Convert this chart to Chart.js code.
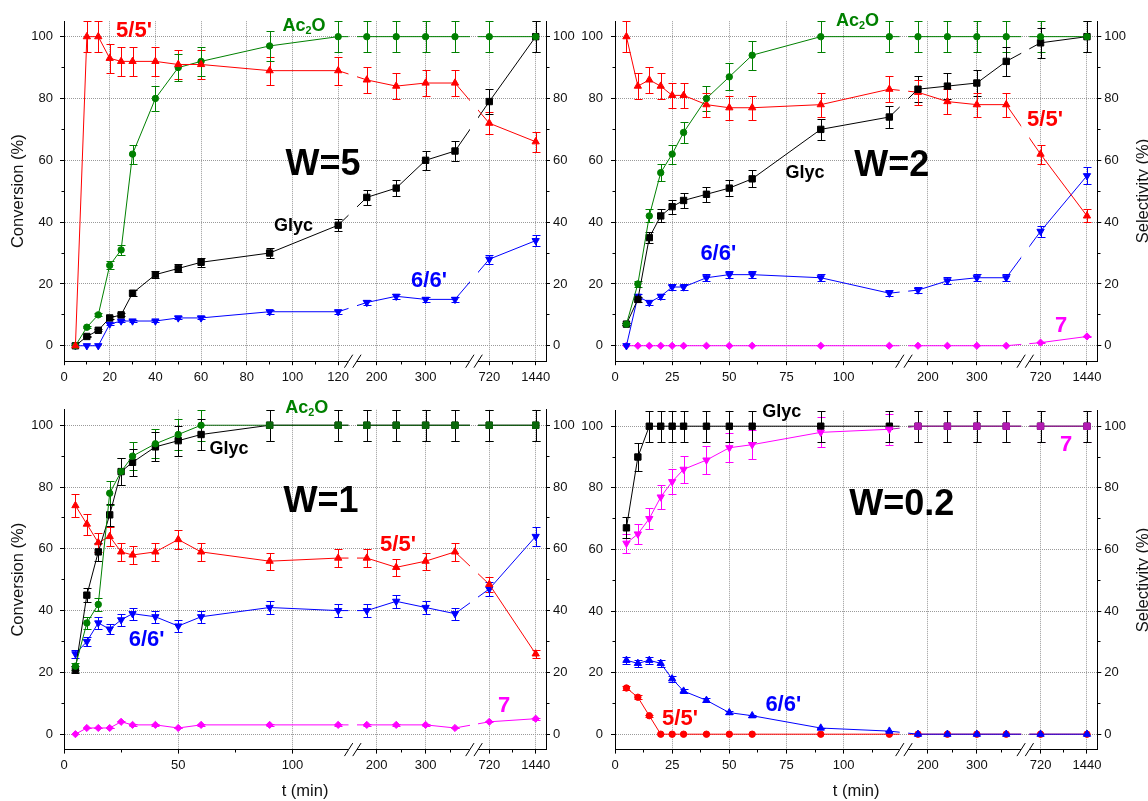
<!DOCTYPE html>
<html>
<head>
<meta charset="utf-8">
<title>Conversion and selectivity vs time, W = 5, 2, 1, 0.2</title>
<script src="https://cdn.jsdelivr.net/npm/chart.js@4.4.1/dist/chart.umd.min.js"></script>
<style>
  body { margin: 0; background: #fff; }
  #wrap { position: relative; width: 1148px; height: 801px; overflow: hidden; font-family: Arial, "Liberation Sans", sans-serif; }
  #wrap canvas { position: absolute; }
  .note { position: absolute; transform: translate(-50%, -50%); font-weight: bold; line-height: 1; white-space: nowrap; }
  .note sub { font-size: .6em; position: relative; top: .28em; vertical-align: baseline; line-height: 0; }
  .ytitle { position: absolute; transform: translate(-50%, -50%) rotate(-90deg); font-size: 16.5px; line-height: 1; white-space: nowrap; color: #111; }
</style>
</head>
<body>
<div id="wrap">
  <canvas id="pTL" width="580" height="395" style="left:0;top:0"></canvas>
  <canvas id="pTR" width="568" height="395" style="left:580px;top:0"></canvas>
  <canvas id="pBL" width="580" height="406" style="left:0;top:395px"></canvas>
  <canvas id="pBR" width="568" height="406" style="left:580px;top:395px"></canvas>
</div>
<script>
// sampling times (min)
const TIMES = [5, 10, 15, 20, 25, 30, 40, 50, 60, 90, 120, 180, 240, 300, 360, 720, 1440];

// W=5
const w5Ac2O    = [0, 6, 10, 26, 31, 62, 80, 90, 92, 97, 100, 100, 100, 100, 100, 100, 100];
const w5Ac2OErr = [0, 0.3, 0.5, 1.3, 1.6, 3.1, 4, 4.5, 4.6, 4.9, 5, 5, 5, 5, 5, 5, 5];
const w5S55     = [0, 100, 100, 93, 92, 92, 92, 91, 91, 89, 89, 86, 84, 85, 85, 72, 66];
const w5S55Err  = [0, 5, 5, 4.7, 4.6, 4.6, 4.6, 4.6, 4.6, 4.5, 4.5, 4.3, 4.2, 4.3, 4.3, 3.6, 3.3];
const w5Glyc    = [0, 3, 5, 9, 10, 17, 23, 25, 27, 30, 39, 48, 51, 60, 63, 79, 100];
const w5GlycErr = [0, 0.2, 0.3, 0.5, 0.5, 0.9, 1.2, 1.3, 1.4, 1.5, 2, 2.4, 2.6, 3, 3.2, 4, 5];
const w5S66     = [0, 0, 0, 7, 8, 8, 8, 9, 9, 11, 11, 14, 16, 15, 15, 28, 34];
const w5S66Err  = [0, 0, 0, 0.4, 0.4, 0.4, 0.4, 0.5, 0.5, 0.6, 0.6, 0.7, 0.8, 0.8, 0.8, 1.4, 1.7];

// W=2
const w2Ac2O    = [7, 20, 42, 56, 62, 69, 80, 87, 94, 100, 100, 100, 100, 100, 100, 100, 100];
const w2Ac2OErr = [0.4, 1, 2.1, 2.8, 3.1, 3.5, 4, 4.4, 4.7, 5, 5, 5, 5, 5, 5, 5, 5];
const w2S55     = [100, 84, 86, 84, 81, 81, 78, 77, 77, 78, 83, 82, 79, 78, 78, 62, 42];
const w2S55Err  = [5, 4.2, 4.3, 4.2, 4.1, 4.1, 3.9, 3.9, 3.9, 3.9, 4.2, 4.1, 4, 3.9, 3.9, 3.1, 2.1];
const w2Glyc    = [7, 15, 35, 42, 45, 47, 49, 51, 54, 70, 74, 83, 84, 85, 92, 98, 100];
const w2GlycErr = [0.4, 0.8, 1.8, 2.1, 2.3, 2.4, 2.5, 2.6, 2.7, 3.5, 3.7, 4.2, 4.2, 4.3, 4.6, 4.9, 5];
const w2S66     = [0, 16, 14, 16, 19, 19, 22, 23, 23, 22, 17, 18, 21, 22, 22, 37, 55];
const w2S66Err  = [0, 0.8, 0.7, 0.8, 1, 1, 1.1, 1.2, 1.2, 1.1, 0.9, 0.9, 1.1, 1.1, 1.1, 1.9, 2.8];
const w2S7      = [0, 0, 0, 0, 0, 0, 0, 0, 0, 0, 0, 0, 0, 0, 0, 1, 3];
const w2S7Err   = [0, 0, 0, 0, 0, 0, 0, 0, 0, 0, 0, 0, 0, 0, 0, 0.1, 0.2];

// W=1
const w1Ac2O    = [22, 36, 42, 78, 85, 90, 94, 97, 100, 100, 100, 100, 100, 100, 100, 100, 100];
const w1Ac2OErr = [1.1, 1.8, 2.1, 3.9, 4.3, 4.5, 4.7, 4.9, 5, 5, 5, 5, 5, 5, 5, 5, 5];
const w1Glyc    = [21, 45, 59, 71, 85, 88, 93, 95, 97, 100, 100, 100, 100, 100, 100, 100, 100];
const w1GlycErr = [1.1, 2.3, 3, 3.6, 4.3, 4.4, 4.7, 4.8, 4.9, 5, 5, 5, 5, 5, 5, 5, 5];
const w1S55     = [74, 68, 62, 64, 59, 58, 59, 63, 59, 56, 57, 57, 54, 56, 59, 48.5, 26];
const w1S55Err  = [3.7, 3.4, 3.1, 3.2, 3, 2.9, 3, 3.2, 3, 2.8, 2.9, 2.9, 2.7, 2.8, 3, 2.4, 1.3];
const w1S66     = [26, 30, 36, 34, 37, 39, 38, 35, 38, 41, 40, 40, 43, 41, 39, 47, 64];
const w1S66Err  = [1.3, 1.5, 1.8, 1.7, 1.9, 2, 1.9, 1.8, 1.9, 2.1, 2, 2, 2.2, 2.1, 2, 2.4, 3.2];
const w1S7      = [0, 2, 2, 2, 4, 3, 3, 2, 3, 3, 3, 3, 3, 3, 2, 4, 5];
const w1S7Err   = [0, 0.1, 0.1, 0.1, 0.2, 0.2, 0.2, 0.1, 0.2, 0.2, 0.2, 0.2, 0.2, 0.2, 0.1, 0.2, 0.3];

// W=0.2
const w02Glyc    = [67, 90, 100, 100, 100, 100, 100, 100, 100, 100, 100, 100, 100, 100, 100, 100, 100];
const w02GlycErr = [3.4, 4.5, 5, 5, 5, 5, 5, 5, 5, 5, 5, 5, 5, 5, 5, 5, 5];
const w02S7      = [62, 65, 70, 77, 82, 86, 89, 93, 94, 98, 99, 100, 100, 100, 100, 100, 100];
const w02S7Err   = [3.1, 3.3, 3.5, 3.9, 4.1, 4.3, 4.5, 4.7, 4.7, 4.9, 5, 5, 5, 5, 5, 5, 5];
const w02S66     = [24, 23, 24, 23, 18, 14, 11, 7, 6, 2, 1, 0, 0, 0, 0, 0, 0];
const w02S66Err  = [1.2, 1.2, 1.2, 1.2, 0.9, 0.7, 0.6, 0.4, 0.3, 0.1, 0.1, 0, 0, 0, 0, 0, 0];
const w02S55     = [15, 12, 6, 0, 0, 0, 0, 0, 0, 0, 0, 0, 0, 0, 0, 0, 0];
const w02S55Err  = [0.8, 0.6, 0.3, 0, 0, 0, 0, 0, 0, 0, 0, 0, 0, 0, 0, 0, 0];

// axis ticks
const Y_TICKS = [0, 10, 20, 30, 40, 50, 60, 70, 80, 90, 100];
const X_MAJOR_20 = [0, 20, 40, 60, 80, 100, 120, 200, 300, 720, 1440];
const X_MINOR_20 = [10, 30, 50, 70, 90, 110, 250, 350, 1080];
const X_MAJOR_25 = [0, 25, 50, 75, 100, 200, 300, 720, 1440];
const X_MINOR_25 = [12.5, 37.5, 62.5, 87.5, 112.5, 250, 350, 1080];
const X_MAJOR_50 = [0, 50, 100, 200, 300, 720, 1440];
const X_MINOR_50 = [25, 75, 250, 350, 1080];

// broken time axis: [t0, t1, u0, u1] -> virtual x in px from the left axis
const SEGS = [[0, 125, 0, 285.6], [160, 390, 293, 405.7], [545, 1600, 414, 482]];
const GAPS = [[284.5, 293], [406, 414]];
function tu(t){
  for (const [t0, t1, u0, u1] of SEGS) if (t <= t1) return u0 + (t - t0) * (u1 - u0) / (t1 - t0);
  return 482;
}

const RED = '#ff0000', GREEN = '#008000', BLACK = '#000000', BLUE = '#0000ff', MAG = '#ff00ff';
const GRID = '#9a9a9a', INK = '#111';
Chart.defaults.font.family = "Arial, 'Liberation Sans', sans-serif";
Chart.defaults.font.size = 13;
Chart.defaults.color = INK;

// series: label, values, errors, colour, marker, rotation, [overlap: from time, colour, marker]
const PANELS = [
  { id:'pTL', L:64, T:21.2, R:34,   B:33.8, yTitle:true,  xTitle:false, major:X_MAJOR_20, minor:X_MINOR_20, yPad:7,
    series:[ ['5/5\'', w5S55, w5S55Err, RED, 'triangle', 0], ['Ac2O', w5Ac2O, w5Ac2OErr, GREEN, 'circle', 0],
             ['Glyc', w5Glyc, w5GlycErr, BLACK, 'rect', 0], ['6/6\'', w5S66, w5S66Err, BLUE, 'triangle', 180] ] },
  { id:'pTR', L:35, T:21.2, R:50.7, B:33.8, yTitle:false, xTitle:false, major:X_MAJOR_25, minor:X_MINOR_25, yPad:8,
    series:[ ['Ac2O', w2Ac2O, w2Ac2OErr, GREEN, 'circle', 0], ['Glyc', w2Glyc, w2GlycErr, BLACK, 'rect', 0],
             ['5/5\'', w2S55, w2S55Err, RED, 'triangle', 0], ['6/6\'', w2S66, w2S66Err, BLUE, 'triangle', 180],
             ['7', w2S7, w2S7Err, MAG, 'rectRot', 0] ] },
  { id:'pBL', L:64, T:14.7, R:34,   B:51.4, yTitle:true,  xTitle:true,  major:X_MAJOR_50, minor:X_MINOR_50, yPad:7,
    series:[ ['Ac2O', w1Ac2O, w1Ac2OErr, GREEN, 'circle', 0, [90, '#0b680b', 'rect']], ['Glyc', w1Glyc, w1GlycErr, BLACK, 'rect', 0],
             ['5/5\'', w1S55, w1S55Err, RED, 'triangle', 0], ['6/6\'', w1S66, w1S66Err, BLUE, 'triangle', 180],
             ['7', w1S7, w1S7Err, MAG, 'rectRot', 0] ] },
  { id:'pBR', L:35, T:14.7, R:50.7, B:51.4, yTitle:false, xTitle:true,  major:X_MAJOR_25, minor:X_MINOR_25, yPad:8,
    series:[ ['7', w02S7, w02S7Err, MAG, 'triangle', 180, [180, '#b21ab2', 'rect']], ['Glyc', w02Glyc, w02GlycErr, BLACK, 'rect', 0],
             ['6/6\'', w02S66, w02S66Err, BLUE, 'triangle', 0], ['5/5\'', w02S55, w02S55Err, RED, 'circle', 0] ] }
];

// annotations: text, colour, size, centre x, centre y (page px)
const NOTES = [
  ["5/5'", RED, 22, 134, 30], ['Ac<sub>2</sub>O', GREEN, 18, 304, 24.5], ['W=5', BLACK, 36, 323, 163],
  ['Glyc', BLACK, 18, 293.5, 225], ["6/6'", BLUE, 22, 429, 279.5],
  ['Ac<sub>2</sub>O', GREEN, 18, 857.5, 19.7], ['Glyc', BLACK, 18, 805, 171.7], ['W=2', BLACK, 36, 891.7, 164],
  ["6/6'", BLUE, 22, 718.3, 253.3], ["5/5'", RED, 22, 1045, 119], ['7', MAG, 22, 1061, 324.7],
  ['Ac<sub>2</sub>O', GREEN, 18, 306.7, 406.7], ['Glyc', BLACK, 18, 229, 447.5], ['W=1', BLACK, 36, 321, 500],
  ["5/5'", RED, 22, 398, 544], ["6/6'", BLUE, 22, 146.7, 639], ['7', MAG, 22, 504, 704.7],
  ['Glyc', BLACK, 18, 781.7, 411], ['W=0.2', BLACK, 36, 901.7, 503], ["6/6'", BLUE, 22, 783.3, 704],
  ["5/5'", RED, 22, 680, 718], ['7', MAG, 22, 1066, 444]
];

// error bars under the lines, line gaps at the axis breaks, and the // marks
const brokenAxis = {
  id: 'brokenAxis',
  beforeDatasetsDraw(chart){
    const {ctx, scales:{x, y}} = chart;
    chart.data.datasets.forEach(ds => {
      if (!ds.err) return;
      ctx.save();
      ctx.lineWidth = 1;
      ds.data.forEach((p, i) => {
        const e = ds.err[i]; if (!e) return;
        const px = Math.round(x.getPixelForValue(p.x)) + 0.5;
        const y1 = Math.round(y.getPixelForValue(p.y - e)) + 0.5, y2 = Math.round(y.getPixelForValue(p.y + e)) + 0.5;
        ctx.strokeStyle = ds.pointBackgroundColor[i];
        ctx.beginPath();
        ctx.moveTo(px, y1); ctx.lineTo(px, y2);
        ctx.moveTo(px - 4, y1); ctx.lineTo(px + 4, y1);
        ctx.moveTo(px - 4, y2); ctx.lineTo(px + 4, y2);
        ctx.stroke();
      });
      ctx.restore();
    });
    ctx.save();
    ctx.beginPath();
    let from = 0;
    GAPS.forEach(([g0, g1]) => {
      const a = x.getPixelForValue(g0);
      ctx.rect(from, 0, a - from, chart.height);
      from = x.getPixelForValue(g1);
    });
    ctx.rect(from, 0, chart.width - from, chart.height);
    ctx.clip();
  },
  afterDatasetsDraw(chart){ chart.ctx.restore(); },
  afterDraw(chart){
    const {ctx, chartArea, scales:{x}} = chart;
    const yb = chartArea.bottom, h = 6.5, w = 4.15;
    GAPS.forEach(([g0, g1]) => {
      const c = x.getPixelForValue((g0 + g1) / 2);
      ctx.save();
      ctx.fillStyle = '#fff';
      ctx.beginPath();
      ctx.moveTo(c - 4.15 - 1.3, yb + 2); ctx.lineTo(c + 4.15 - 1.3, yb + 2);
      ctx.lineTo(c + 4.15 + 1.3, yb - 2); ctx.lineTo(c - 4.15 + 1.3, yb - 2);
      ctx.closePath(); ctx.fill();
      ctx.strokeStyle = '#000'; ctx.lineWidth = 1;
      [-4.15, 4.15].forEach(dx => {
        ctx.beginPath();
        ctx.moveTo(c + dx - w, yb + h); ctx.lineTo(c + dx + w, yb - h);
        ctx.stroke();
      });
      ctx.restore();
    });
  }
};

function yScale(pos, p){
  const isLeft = pos === 'left';
  return {
    type: 'linear', position: pos, min: -5, max: 105, bounds: 'data',
    afterBuildTicks: s => { s.ticks = Y_TICKS.map(v => ({value: v})); },
    afterFit: s => { s.width = isLeft ? p.L : p.R; },
    ticks: { callback: v => (v % 20 === 0 ? String(v) : ''), padding: isLeft ? p.yPad : 3, autoSkip: false, color: INK },
    grid: {
      drawOnChartArea: isLeft,
      color: c => (c.tick && c.tick.value % 20 === 0 ? GRID : 'rgba(0,0,0,0)'),
      tickColor: '#000', tickLength: 4, tickWidth: 1,
      tickBorderDash: c => (c.tick && c.tick.value % 20 !== 0 ? (isLeft ? [0, 1.5, 2.5, 100] : [2.5, 100]) : [])
    },
    border: { display: true, color: '#000', width: 1, dash: [1, 1] },
    title: (isLeft && p.yTitle)
      ? { display: true, text: 'Conversion (%)', color: INK, font: {size: 16.5}, padding: {top: 8.4, bottom: 0} }
      : { display: false }
  };
}

function buildPanel(p){
  const xt = p.major.map(t => [t, String(t)]).concat(p.minor.map(t => [t, ''])).sort((a, b) => a[0] - b[0]);
  const xl = xt.map(d => d[1]);
  const datasets = p.series.map(([label, vals, err, color, style, rot, over]) => {
    const late = i => over && TIMES[i] >= over[0];
    const colors = TIMES.map((t, i) => (late(i) ? over[1] : color));
    const styles = TIMES.map((t, i) => (late(i) ? over[2] : style));
    const radius = s => (s === 'rect' ? 4.5 : s === 'circle' ? 3.2 : s === 'rectRot' ? 3.6 : 4.2);
    return {
      label, err,
      data: TIMES.map((t, i) => ({x: tu(t), y: vals[i]})),
      borderColor: color, backgroundColor: color, borderWidth: 1, tension: 0,
      segment: { borderColor: c => colors[c.p1DataIndex] },
      pointStyle: styles, pointRotation: styles.map(s => (s === style ? rot : 0)),
      pointRadius: styles.map(radius),
      pointBorderWidth: 1, pointBackgroundColor: colors, pointBorderColor: colors
    };
  });
  new Chart(document.getElementById(p.id), {
    type: 'line',
    data: { datasets },
    options: {
      responsive: false, animation: false, devicePixelRatio: 1,
      layout: { padding: {top: p.T, left: 0, right: 0, bottom: 0} },
      plugins: { legend: {display: false}, tooltip: {enabled: false} },
      scales: {
        x: {
          type: 'linear', position: 'bottom', min: 0, max: 482, bounds: 'data',
          afterBuildTicks: s => { s.ticks = xt.map(d => ({value: tu(d[0])})); },
          afterFit: s => { s.height = p.B; },
          ticks: { callback: (v, i) => xl[i], autoSkip: false, maxRotation: 0, padding: 4, color: INK },
          grid: {
            color: c => (xl[c.index] ? GRID : 'rgba(0,0,0,0)'),
            tickColor: '#000', tickLength: 4, tickWidth: 1,
            tickBorderDash: c => (xl[c.index] ? [] : [2.5, 100])
          },
          border: { display: true, color: '#000', width: 1, dash: [1, 1] },
          title: p.xTitle
            ? { display: true, text: 't (min)', color: INK, font: {size: 16.5}, padding: {top: 0, bottom: 0} }
            : { display: false }
        },
        y: yScale('left', p),
        y2: yScale('right', p)
      }
    },
    plugins: [brokenAxis]
  });
}

PANELS.forEach(buildPanel);

const wrap = document.getElementById('wrap');
NOTES.forEach(([txt, color, size, cx, cy]) => {
  const d = document.createElement('div');
  d.className = 'note';
  d.innerHTML = txt;
  d.style.cssText = `left:${cx}px;top:${cy}px;color:${color};font-size:${size}px`;
  wrap.appendChild(d);
});
[191.2, 580].forEach(cy => {
  const d = document.createElement('div');
  d.className = 'ytitle';
  d.textContent = 'Selectivity (%)';
  d.style.left = '1141.7px'; d.style.top = cy + 'px';
  wrap.appendChild(d);
});
</script>
</body>
</html>
